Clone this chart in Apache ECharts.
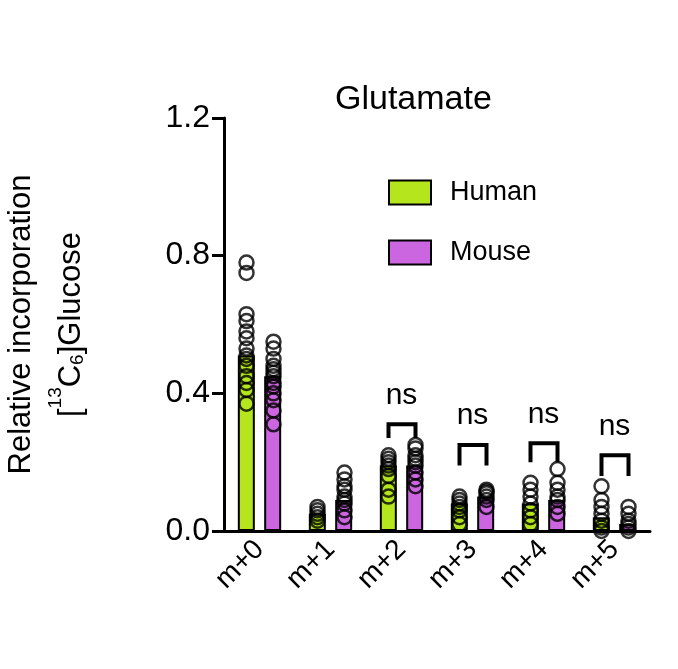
<!DOCTYPE html>
<html><head><meta charset="utf-8">
<script src="https://cdn.jsdelivr.net/npm/echarts@6/dist/echarts.min.js"></script>
<style>html,body{margin:0;background:#fff}#c{width:678px;height:669px}</style>
</head><body><div id="c"></div>
<script>
var categories = ['m+0','m+1','m+2','m+3','m+4','m+5'];
var humanMean = [0.51,0.05,0.19,0.08,0.08,0.04];
var mouseMean = [0.45,0.09,0.19,0.10,0.09,0.02];
var humanDots = [
  [0.78,0.75,0.63,0.61,0.58,0.56,0.53,0.51,0.50,0.48,0.45,0.43,0.41,0.37],
  [0.07,0.06,0.05,0.04,0.03],
  [0.22,0.21,0.20,0.19,0.18,0.16,0.12,0.10],
  [0.10,0.09,0.08,0.07,0.06,0.04,0.02],
  [0.14,0.12,0.10,0.08,0.06,0.04,0.02],
  [0.13,0.09,0.07,0.05,0.03,0.01,0.00]
];
var mouseDots = [
  [0.55,0.53,0.50,0.48,0.47,0.46,0.45,0.43,0.42,0.40,0.38,0.35,0.31],
  [0.17,0.15,0.13,0.12,0.10,0.09,0.08,0.06,0.04],
  [0.25,0.24,0.22,0.21,0.20,0.19,0.17,0.15,0.13],
  [0.12,0.115,0.11,0.10,0.09,0.07],
  [0.18,0.14,0.12,0.10,0.09,0.07,0.05],
  [0.07,0.05,0.03,0.02,0.01,0.00]
];
var bracketTop = [null,null,0.31,0.25,0.255,0.22];
var bracketLegs = [null,null,0.27,0.19,0.20,0.16];
var sigLabels = ['','','ns','ns','ns','ns'];

var OFF = 13;
function dotData(arr){
  var out = [];
  arr.forEach(function(list,i){ list.forEach(function(v){ out.push([i,v]); }); });
  return out;
}
var bracketData = [];
bracketTop.forEach(function(t,i){ if(t!=null) bracketData.push([i,t,bracketLegs[i]]); });

var chart = echarts.init(document.getElementById('c'));
chart.setOption({
  animation:false,
  textStyle:{fontFamily:'Liberation Sans, Arial'},
  title:{text:'Glutamate',left:330,top:78,textStyle:{fontSize:34,fontWeight:'normal',color:'#000'}},
  legend:{data:['Human','Mouse'],orient:'vertical',left:383,top:174,itemWidth:42,itemHeight:24,itemGap:33,
    icon:'rect',itemStyle:{borderColor:'#000',borderWidth:2},
    textStyle:{fontSize:27,color:'#000',padding:[0,0,0,14]}},
  grid:{left:224,top:118,right:28,bottom:138,outerBoundsMode:'none',containLabel:false},
  xAxis:{type:'category',data:categories,
    axisLine:{lineStyle:{color:'#000',width:3}},
    axisTick:{alignWithLabel:true,length:12,lineStyle:{width:3,color:'#000'}},
    axisLabel:{rotate:45,fontSize:28,color:'#000',margin:14}},
  yAxis:{type:'value',min:0,max:1.2,interval:0.4,
    axisLabel:{formatter:function(v){return v.toFixed(1);},fontSize:32,color:'#000',margin:14},
    axisLine:{show:true,lineStyle:{color:'#000',width:3}},
    axisTick:{show:true,length:12,lineStyle:{width:3,color:'#000'}},
    splitLine:{show:false},
    name:'Relative incorporation\n[{sup|13}C{sub|6}]Glucose',nameLocation:'middle',nameGap:128,nameRotate:90,
    nameTextStyle:{fontSize:31,color:'#000',lineHeight:50,
      rich:{sup:{fontSize:19,verticalAlign:'top',lineHeight:50,padding:[0,0,14,0]},sub:{fontSize:19,lineHeight:50,padding:[14,0,0,0]}}}},
  series:[
    {name:'Human',type:'bar',data:humanMean,barWidth:17,barGap:'55%',
      itemStyle:{color:'#b5e61d',borderColor:'#000',borderWidth:2}},
    {name:'Mouse',type:'bar',data:mouseMean,barWidth:17,
      itemStyle:{color:'#cc66e0',borderColor:'#000',borderWidth:2}},
    {type:'scatter',data:dotData(humanDots),symbol:'circle',symbolSize:14,symbolOffset:[-OFF,0],
      itemStyle:{color:'rgba(255,255,255,0)',borderColor:'#000',borderWidth:2.5},z:5},
    {type:'scatter',data:dotData(mouseDots),symbol:'circle',symbolSize:14,symbolOffset:[OFF+1,0],
      itemStyle:{color:'rgba(255,255,255,0)',borderColor:'#000',borderWidth:2.5},z:5},
    {type:'custom',data:bracketData,z:6,renderItem:function(p,api){
      var top = api.coord([api.value(0),api.value(1)]);
      var leg = api.coord([api.value(0),api.value(2)]);
      var x1 = top[0]-OFF, x2 = top[0]+OFF+1;
      return {type:'group',children:[
        {type:'polyline',shape:{points:[[x1,leg[1]],[x1,top[1]],[x2,top[1]],[x2,leg[1]]]},
          style:{stroke:'#000',lineWidth:4,fill:null}},
        {type:'text',style:{text:sigLabels[api.value(0)],x:top[0],y:top[1]-14,
          textAlign:'center',textVerticalAlign:'bottom',fontSize:30,fill:'#000',fontFamily:'Liberation Sans, Arial'}}
      ]};
    }}
  ]
});
</script></body></html>
